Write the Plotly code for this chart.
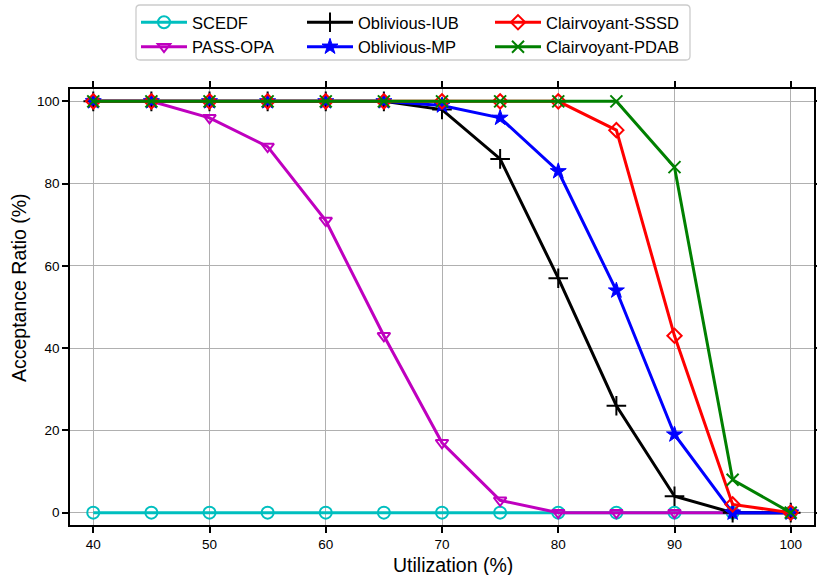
import plotly.graph_objects as go

utilization = [40, 45, 50, 55, 60, 65, 70, 75, 80, 85, 90, 95, 100]

scedf = [0, 0, 0, 0, 0, 0, 0, 0, 0, 0, 0, 0, 0]
pass_opa = [100, 100, 96, 89, 71, 43, 17, 3, 0, 0, 0, 0, 0]
oblivious_iub = [100, 100, 100, 100, 100, 100, 98, 86, 57, 26, 4, 0, 0]
oblivious_mp = [100, 100, 100, 100, 100, 100, 99, 96, 83, 54, 19, 0, 0]
clairvoyant_sssd = [100, 100, 100, 100, 100, 100, 100, 100, 100, 93, 43, 2, 0]
clairvoyant_pdab = [100, 100, 100, 100, 100, 100, 100, 100, 100, 100, 84, 8, 0]

x_ticks = [40, 50, 60, 70, 80, 90, 100]
y_ticks = [0, 20, 40, 60, 80, 100]

FONT = "Liberation Sans, Arial, sans-serif"

series = [
    ("SCEDF", scedf, "#00BFBF", "circle-open", 12, "legend"),
    ("PASS-OPA", pass_opa, "#BF00BF", "triangle-down-open", 11, "legend"),
    ("Oblivious-IUB", oblivious_iub, "#000000", "cross-thin", 14, "legend2"),
    ("Oblivious-MP", oblivious_mp, "#0000FF", "star", 12, "legend2"),
    ("Clairvoyant-SSSD", clairvoyant_sssd, "#FF0000", "diamond-open", 11, "legend3"),
    ("Clairvoyant-PDAB", clairvoyant_pdab, "#008000", "x-thin", 12, "legend3"),
]

fig = go.Figure()
for name, vals, color, sym, size, leg in series:
    fig.add_trace(go.Scatter(
        x=utilization, y=vals, name=name, mode="lines+markers",
        line=dict(color=color, width=3),
        marker=dict(symbol=sym, size=size, color=color,
                    line=dict(color=color, width=2 if sym != "star" else 1)),
        legend=leg,
    ))

L, R, T, B = 70, 3, 89, 50
W, H = 817, 575
pw, ph = W - L - R, H - T - B


def px_x(p):
    return (p - L) / pw


def px_y(p):
    return (H - B - p) / ph


leg_common = dict(
    font=dict(family=FONT, size=16.5, color="#000000"),
    bgcolor="rgba(0,0,0,0)", borderwidth=0, orientation="v",
    yanchor="top", xanchor="left", itemwidth=46, tracegroupgap=0,
)

fig.update_layout(
    width=W, height=H,
    margin=dict(l=L, r=R, t=T, b=B, autoexpand=False),
    paper_bgcolor="white", plot_bgcolor="white",
    font=dict(family=FONT, color="#000000"),
    legend=dict(x=px_x(136), y=px_y(5), **leg_common),
    legend2=dict(x=px_x(302), y=px_y(5), **leg_common),
    legend3=dict(x=px_x(490), y=px_y(5), **leg_common),
)

axis_common = dict(
    showline=True, linecolor="#000000", linewidth=1.5, mirror="ticks",
    ticks="outside", ticklen=6, tickwidth=1.5, tickcolor="#000000",
    showgrid=True, gridcolor="#b0b0b0", gridwidth=1.3, zeroline=False,
    tickfont=dict(family=FONT, size=13.5, color="#000000"),
)

fig.update_xaxes(range=[38, 102], tickvals=x_ticks,
                 ticktext=[str(v) for v in x_ticks], **axis_common)
fig.update_yaxes(range=[-3, 103], tickvals=y_ticks,
                 ticktext=[str(v) for v in y_ticks], **axis_common)

# axis titles
fig.add_annotation(text="Utilization (%)", xref="paper", yref="paper",
                   x=px_x(453), y=px_y(565), showarrow=False,
                   xanchor="center", yanchor="middle",
                   font=dict(family=FONT, size=19.5, color="#000000"))
fig.add_annotation(text="Acceptance Ratio (%)", xref="paper", yref="paper",
                   x=px_x(19), y=px_y(288), showarrow=False, textangle=-90,
                   xanchor="center", yanchor="middle",
                   font=dict(family=FONT, size=19.5, color="#000000"))

# legend frame
x0, x1, y0, y1 = px_x(136), px_x(690), px_y(60), px_y(5)
rx, ry = 4 / pw, 4 / ph
path = (f"M{x0 + rx},{y0} L{x1 - rx},{y0} Q{x1},{y0} {x1},{y0 + ry} "
        f"L{x1},{y1 - ry} Q{x1},{y1} {x1 - rx},{y1} L{x0 + rx},{y1} "
        f"Q{x0},{y1} {x0},{y1 - ry} L{x0},{y0 + ry} Q{x0},{y0} {x0 + rx},{y0} Z")
fig.add_shape(type="path", path=path, xref="paper", yref="paper",
              line=dict(color="#cccccc", width=1.3), fillcolor="white",
              layer="below")

fig.write_html(
    "out.html",
    config={"displayModeBar": False},
    post_script="document.body.style.margin='0';document.body.style.padding='0';",
)
